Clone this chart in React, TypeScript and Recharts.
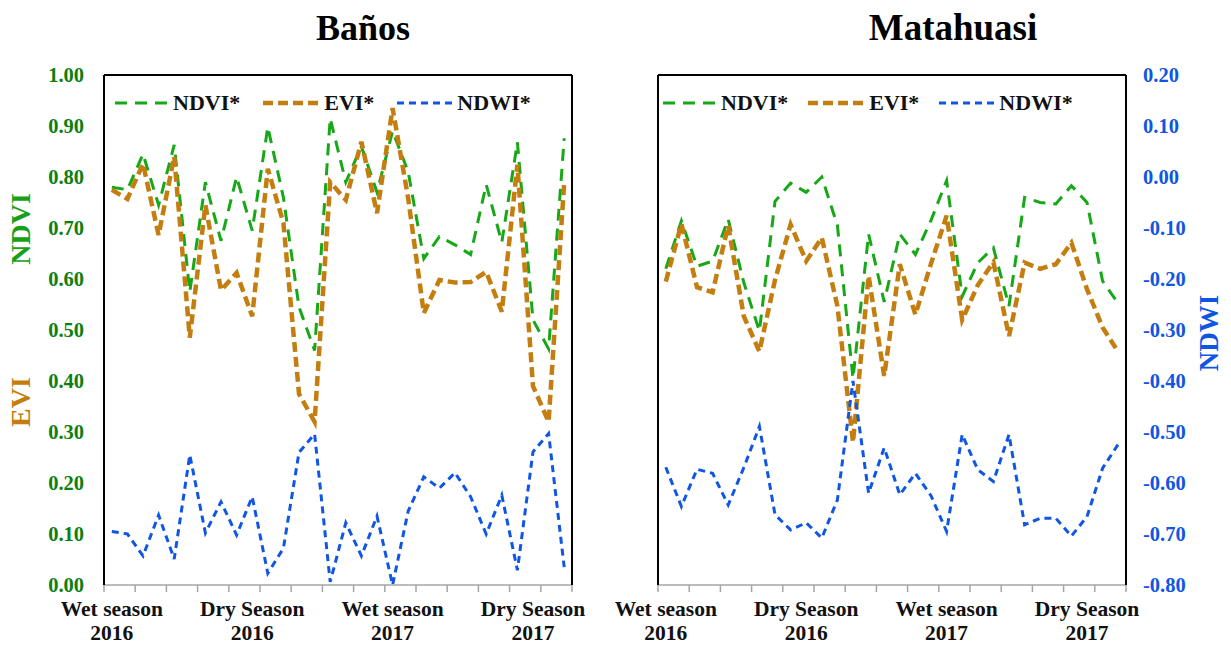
import React from 'react';
import { LineChart, Line, XAxis, YAxis, Legend } from 'recharts';

// ---------- data ----------
const categories = [
  'P01', 'P02', 'P03', 'P04', 'P05', 'P06', 'P07', 'P08', 'P09', 'P10',
  'P11', 'P12', 'P13', 'P14', 'P15', 'P16', 'P17', 'P18', 'P19', 'P20',
  'P21', 'P22', 'P23', 'P24', 'P25', 'P26', 'P27', 'P28', 'P29', 'P30',
];

const seasonLabels = [
  { cat: 'P01', line1: 'Wet season', line2: '2016' },
  { cat: 'P10', line1: 'Dry Season', line2: '2016' },
  { cat: 'P19', line1: 'Wet season', line2: '2017' },
  { cat: 'P28', line1: 'Dry Season', line2: '2017' },
];

const indexTicks = [0, 0.1, 0.2, 0.3, 0.4, 0.5, 0.6, 0.7, 0.8, 0.9, 1.0];
const ndwiTicks = [-0.8, -0.7, -0.6, -0.5, -0.4, -0.3, -0.2, -0.1, 0, 0.1, 0.2];
const legendOrder = ['ndvi', 'evi', 'ndwi'];

// Baños
const ndviBanos = [0.78, 0.775, 0.845, 0.745, 0.863, 0.575, 0.79, 0.675, 0.8, 0.695, 0.898, 0.76, 0.545, 0.46, 0.915, 0.79, 0.86, 0.77, 0.89, 0.81, 0.64, 0.683, 0.667, 0.648, 0.785, 0.672, 0.868, 0.52, 0.463, 0.876];
const eviBanos = [0.775, 0.757, 0.826, 0.686, 0.84, 0.485, 0.745, 0.578, 0.612, 0.527, 0.816, 0.71, 0.375, 0.32, 0.79, 0.755, 0.869, 0.729, 0.935, 0.758, 0.533, 0.598, 0.593, 0.594, 0.614, 0.536, 0.824, 0.39, 0.32, 0.789];
const ndwiBanos = [0.105, 0.1, 0.057, 0.137, 0.051, 0.255, 0.102, 0.163, 0.098, 0.173, 0.023, 0.072, 0.26, 0.296, 0.006, 0.122, 0.057, 0.135, 0.0, 0.145, 0.212, 0.19, 0.22, 0.173, 0.1, 0.176, 0.029, 0.261, 0.297, 0.035];

// Matahuasi
const ndviMata = [0.62, 0.714, 0.625, 0.635, 0.717, 0.593, 0.498, 0.752, 0.788, 0.77, 0.8, 0.705, 0.405, 0.688, 0.555, 0.688, 0.648, 0.715, 0.793, 0.566, 0.632, 0.661, 0.547, 0.76, 0.75, 0.747, 0.783, 0.75, 0.596, 0.552];
const eviMata = [0.595, 0.708, 0.584, 0.574, 0.705, 0.527, 0.458, 0.598, 0.707, 0.635, 0.681, 0.547, 0.28, 0.606, 0.41, 0.629, 0.53, 0.63, 0.724, 0.52, 0.588, 0.633, 0.488, 0.632, 0.62, 0.629, 0.671, 0.58, 0.505, 0.457];
const ndwiMata = [-0.569, -0.646, -0.573, -0.581, -0.643, -0.57, -0.489, -0.662, -0.692, -0.678, -0.708, -0.633, -0.4, -0.62, -0.531, -0.623, -0.581, -0.625, -0.695, -0.505, -0.574, -0.597, -0.505, -0.682, -0.669, -0.669, -0.704, -0.666, -0.571, -0.524];

const dataBanos = categories.map((cat, i) => ({ cat, ndvi: ndviBanos[i], evi: eviBanos[i], ndwi: ndwiBanos[i] }));
const dataMata = categories.map((cat, i) => ({ cat, ndvi: ndviMata[i], evi: eviMata[i], ndwi: ndwiMata[i] }));

// ---------- styles ----------
const FONT = '"Liberation Serif", "Times New Roman", "DejaVu Serif", serif';
const GREEN_LINE = '#17a817';
const GREEN_TEXT = '#0d7f0d';
const GREEN_TITLE = '#18a018';
const ORANGE = '#c47e10';
const BLUE = '#0f56e4';
const GRAY_AXIS = '#a6a6a6';
const HALF_SLOT = 7.8; // half of one period's slot width (axis padding)

const seriesStyle: Record<string, { name: string; color: string; width: number; dash: string; sample: number }> = {
  ndvi: { name: 'NDVI*', color: GREEN_LINE, width: 3, dash: '12 8', sample: 53 },
  evi: { name: 'EVI*', color: ORANGE, width: 4.5, dash: '10 5', sample: 56 },
  ndwi: { name: 'NDWI*', color: BLUE, width: 3, dash: '7 5', sample: 55 },
};

// Each category tick: a gray tick mark on the slot boundary every two periods,
// plus the two-line season label on the labelled periods.
const CategoryTick = (props: any) => {
  const { x, y, payload } = props;
  const idx = categories.indexOf(payload.value);
  const lab = seasonLabels.find((s) => s.cat === payload.value);
  const marks: number[] = [];
  if (idx % 2 === 0) marks.push(x - HALF_SLOT);
  if (idx === categories.length - 1) marks.push(x + HALF_SLOT);
  return (
    <g>
      {marks.map((mx, k) => (
        <line key={k} x1={mx} y1={y} x2={mx} y2={y + 7} stroke={GRAY_AXIS} strokeWidth={1.5} />
      ))}
      {lab && (
        <text x={x} y={y} textAnchor="middle" fontSize={21.5} fontWeight={700} fill="#111" fontFamily={FONT}>
          <tspan x={x} dy={31}>{lab.line1}</tspan>
          <tspan x={x} dy={24}>{lab.line2}</tspan>
        </text>
      )}
    </g>
  );
};

const makeLegend = (gap: number) => (props: any) => {
  const payload = [...(props.payload || [])].sort(
    (a: any, b: any) => legendOrder.indexOf(a.dataKey) - legendOrder.indexOf(b.dataKey)
  );
  return (
    <div style={{ display: 'flex', alignItems: 'center', height: 26, fontFamily: FONT, whiteSpace: 'nowrap' }}>
      {payload.map((item: any, idx: number) => {
        const st = seriesStyle[item.dataKey as string];
        return (
          <div key={idx} style={{ display: 'flex', alignItems: 'center', marginRight: gap }}>
            <svg width={st.sample} height={10} style={{ display: 'block' }}>
              <line x1={0} y1={5} x2={st.sample} y2={5} stroke={st.color} strokeWidth={st.width} strokeDasharray={st.dash} />
            </svg>
            <span style={{ marginLeft: 5, fontSize: 22, fontWeight: 700, color: '#111', lineHeight: '26px' }}>{st.name}</span>
          </div>
        );
      })}
    </div>
  );
};

const frameAxis = { stroke: '#000', strokeWidth: 2 };

const seriesLines = (ndwiAxis: string) =>
  legendOrder.map((k) => (
    <Line
      key={k}
      xAxisId="main"
      yAxisId={k === 'ndwi' ? ndwiAxis : 'main'}
      type="linear"
      dataKey={k}
      name={seriesStyle[k].name}
      stroke={seriesStyle[k].color}
      strokeWidth={seriesStyle[k].width}
      strokeDasharray={seriesStyle[k].dash}
      dot={false}
      activeDot={false}
      isAnimationActive={false}
    />
  ));

const commonX = () => [
  <XAxis
    key="main"
    xAxisId="main"
    dataKey="cat"
    height={60}
    interval={0}
    tickSize={0}
    tickMargin={0}
    tickLine={false}
    tick={<CategoryTick />}
    axisLine={{ stroke: GRAY_AXIS, strokeWidth: 1.5 }}
    padding={{ left: HALF_SLOT, right: HALF_SLOT }}
  />,
  <XAxis
    key="top"
    xAxisId="top"
    orientation="top"
    type="number"
    domain={[0, 1]}
    height={1}
    tick={false}
    tickLine={false}
    axisLine={frameAxis}
  />,
];

const BanosChart = () => (
  <LineChart width={615} height={645} data={dataBanos} margin={{ top: 74, right: 0, bottom: 0, left: 0 }}>
    {commonX()}
    <YAxis
      yAxisId="main"
      domain={[0, 1]}
      ticks={indexTicks}
      width={104}
      tickSize={0}
      tickMargin={20}
      tickLine={false}
      axisLine={frameAxis}
      tickFormatter={(v: number) => v.toFixed(2)}
      tick={{ fill: GREEN_TEXT, fontSize: 20.5, fontWeight: 700, fontFamily: FONT }}
    />
    <YAxis yAxisId="frame" orientation="right" domain={[0, 1]} width={43} tick={false} tickLine={false} axisLine={frameAxis} />
    <Legend
      layout="horizontal"
      verticalAlign="middle"
      align="center"
      wrapperStyle={{ top: 90, left: 115, width: 'auto', height: 26 }}
      content={makeLegend(23)}
    />
    {seriesLines('main')}
  </LineChart>
);

const MataChart = () => (
  <LineChart width={616} height={645} data={dataMata} margin={{ top: 74, right: 0, bottom: 0, left: 0 }}>
    {commonX()}
    <YAxis yAxisId="main" domain={[0, 1]} width={43} tick={false} tickLine={false} axisLine={frameAxis} />
    <YAxis
      yAxisId="ndwi"
      orientation="right"
      domain={[-0.8, 0.2]}
      ticks={ndwiTicks}
      width={105}
      tickSize={0}
      tickMargin={17}
      tickLine={false}
      axisLine={frameAxis}
      tickFormatter={(v: number) => v.toFixed(2)}
      tick={{ fill: BLUE, fontSize: 20.5, fontWeight: 700, fontFamily: FONT }}
    />
    <Legend
      layout="horizontal"
      verticalAlign="middle"
      align="center"
      wrapperStyle={{ top: 90, left: 48, width: 'auto', height: 26 }}
      content={makeLegend(20)}
    />
    {seriesLines('ndwi')}
  </LineChart>
);

export default function App() {
  return (
    <div style={{ position: 'absolute', left: 0, top: 0, width: 1231, height: 645, background: '#fff', fontFamily: FONT, overflow: 'hidden' }}>
      <div style={{ position: 'absolute', left: 0, top: 0 }}>
        <BanosChart />
      </div>
      <div style={{ position: 'absolute', left: 615, top: 0 }}>
        <MataChart />
      </div>
      <svg width={1231} height={645} style={{ position: 'absolute', left: 0, top: 0, pointerEvents: 'none' }}>
        <text x={363} y={40} textAnchor="middle" fontSize={36} fontWeight={700} fill="#000" fontFamily={FONT}>Baños</text>
        <text x={953} y={40} textAnchor="middle" fontSize={37} fontWeight={700} fill="#000" fontFamily={FONT}>Matahuasi</text>
        <text transform="translate(30,229) rotate(-90)" textAnchor="middle" fontSize={28} fontWeight={700} fill={GREEN_TITLE} fontFamily={FONT}>NDVI</text>
        <text transform="translate(30,402) rotate(-90)" textAnchor="middle" fontSize={28} fontWeight={700} fill={ORANGE} fontFamily={FONT}>EVI</text>
        <text transform="translate(1218,333) rotate(-90)" textAnchor="middle" fontSize={27} fontWeight={700} fill={BLUE} fontFamily={FONT}>NDWI</text>
      </svg>
    </div>
  );
}
